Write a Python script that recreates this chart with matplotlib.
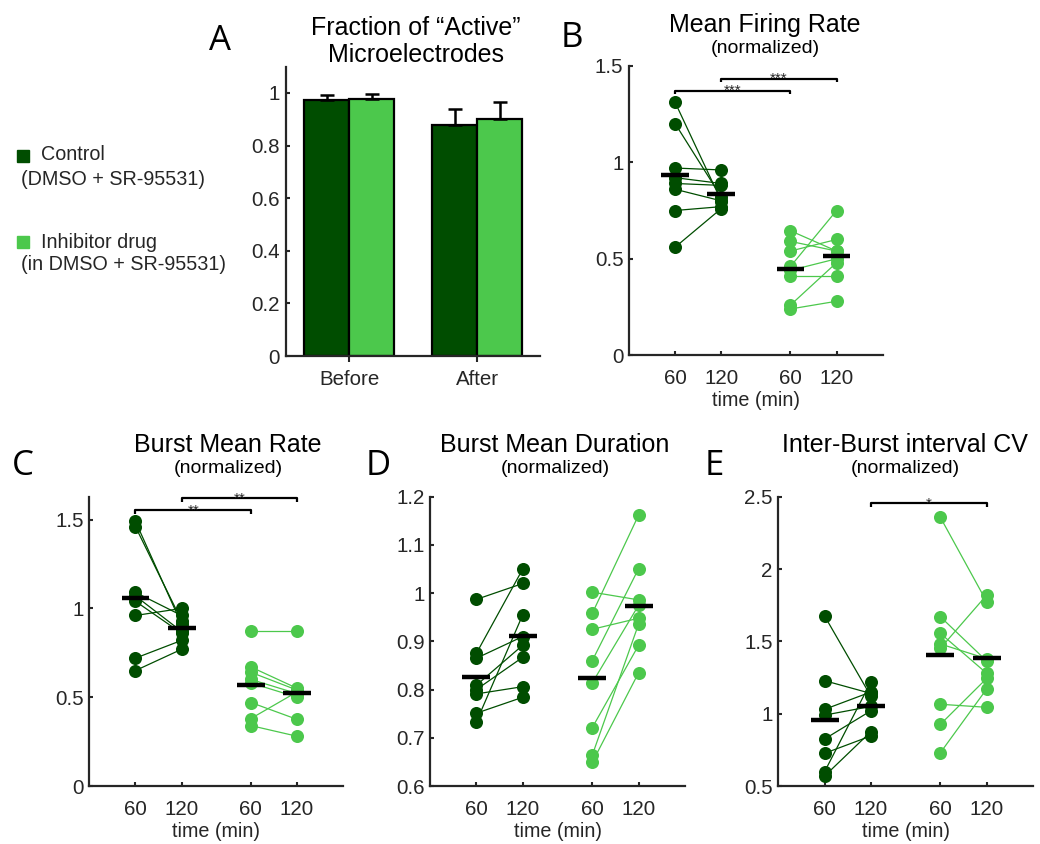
import numpy as np
import matplotlib
matplotlib.use('Agg')
import matplotlib.pyplot as plt

W, H = 1040, 844
DARK = '#004d00'
LIGHT = '#4cc84c'
GREY = '#262626'

# --- A: fraction of active microelectrodes ---
groups = ['Before', 'After']
active_ctrl = [0.972, 0.877]
active_ctrl_err = [0.019, 0.061]
active_drug = [0.976, 0.902]
active_drug_err = [0.021, 0.064]

# tick labels shared by the paired panels
times = ['60', '120', '60', '120']

# --- B: mean firing rate (normalized), pairs in same order ---
fr_ctrl_60 = [1.31, 1.20, 0.97, 0.92, 0.89, 0.86, 0.75, 0.56]
fr_ctrl_120 = [0.80, 0.82, 0.96, 0.89, 0.88, 0.80, 0.77, 0.76]
fr_drug_60 = [0.645, 0.59, 0.54, 0.46, 0.44, 0.41, 0.26, 0.24]
fr_drug_120 = [0.54, 0.54, 0.60, 0.75, 0.50, 0.41, 0.48, 0.28]

# --- C: burst mean rate ---
br_ctrl_60 = [1.49, 1.46, 1.09, 1.07, 1.04, 0.96, 0.72, 0.65]
br_ctrl_120 = [0.91, 0.93, 0.96, 0.87, 0.86, 1.00, 0.82, 0.77]
br_drug_60 = [0.875, 0.67, 0.64, 0.60, 0.58, 0.47, 0.38, 0.34]
br_drug_120 = [0.875, 0.55, 0.54, 0.52, 0.50, 0.375, 0.53, 0.28]

# --- D: burst mean duration ---
bd_ctrl_60 = [0.987, 0.875, 0.865, 0.809, 0.800, 0.791, 0.751, 0.733]
bd_ctrl_120 = [1.02, 1.05, 0.91, 0.892, 0.867, 0.806, 0.784, 0.955]
bd_drug_60 = [1.002, 0.958, 0.925, 0.86, 0.814, 0.721, 0.664, 0.649]
bd_drug_120 = [0.986, 1.162, 0.948, 1.051, 0.975, 0.892, 0.936, 0.835]

# --- E: inter-burst interval CV ---
ibi_ctrl_60 = [1.675, 1.228, 1.03, 0.99, 0.825, 0.726, 0.599, 0.569]
ibi_ctrl_120 = [1.12, 1.14, 1.15, 1.05, 1.02, 0.846, 1.22, 0.876]
ibi_drug_60 = [2.357, 1.670, 1.555, 1.482, 1.452, 1.065, 0.926, 0.730]
ibi_drug_120 = [1.774, 1.364, 1.279, 1.38, 1.820, 1.044, 1.244, 1.171]

plt.rcParams['font.family'] = ['Liberation Sans', 'DejaVu Sans']

TICK_FS = 14.8
TITLE_FS = 18
SUB_FS = 14


def px_rect(l, t, r, b):
    return [l / W, 1 - b / H, (r - l) / W, (b - t) / H]


def ftext(x, y, s, **kw):
    fig.text(x / W, 1 - y / H, s, va='baseline', **kw)


def style_axes(ax):
    for side in ('top', 'right'):
        ax.spines[side].set_visible(False)
    for side in ('left', 'bottom'):
        ax.spines[side].set_linewidth(1.6)
        ax.spines[side].set_color(GREY)
    ax.tick_params(direction='in', length=3, width=1.5, colors=GREY,
                   labelsize=TICK_FS, labelcolor=GREY)
    ax.tick_params(axis='x', pad=10)
    ax.tick_params(axis='y', pad=4)


def bracket(ax, x1, x2, y, stars):
    lo, hi = ax.get_ylim()
    d = 0.012 * (hi - lo)
    ax.plot([x1, x1, x2, x2], [y - d, y, y, y - d], color='k', lw=1.6,
            solid_capstyle='butt', clip_on=False)
    ax.annotate(stars, xy=((x1 + x2) / 2, y), xytext=(0, -3),
                textcoords='offset points', ha='center', va='baseline',
                fontsize=11, color=GREY)


def pair_panel(ax, c60, c120, d60, d120, ylim, yticks, ylabels):
    xs = [1, 2, 3.5, 4.5]
    for a, b in zip(c60, c120):
        ax.plot(xs[0:2], [a, b], color=DARK, lw=0.9, zorder=1)
    for a, b in zip(d60, d120):
        ax.plot(xs[2:4], [a, b], color=LIGHT, lw=0.9, zorder=1)
    for x, vals, col in zip(xs, [c60, c120, d60, d120],
                            [DARK, DARK, LIGHT, LIGHT]):
        ax.plot([x] * len(vals), vals, 'o', ms=9.4, mew=0, color=col, zorder=2)
        m = np.mean(vals)
        ax.plot([x - 0.3, x + 0.3], [m, m], color='k', lw=3.2,
                solid_capstyle='butt', zorder=3)
    ax.set_xlim(0, 5.5)
    ax.set_ylim(*ylim)
    ax.set_xticks(xs)
    ax.set_xticklabels(times)
    ax.set_yticks(yticks)
    ax.set_yticklabels(ylabels)
    ax.set_xlabel('time (min)', fontsize=14.2, color=GREY, labelpad=2)
    style_axes(ax)


fig = plt.figure(figsize=(W / 100, H / 100), dpi=100)

# panel A
axA = fig.add_axes(px_rect(285.7, 66.7, 540, 356))
gx = np.arange(1, len(groups) + 1)
bw = 0.35
axA.bar(gx - bw / 2, active_ctrl, bw, color=DARK, edgecolor='k', lw=1.6,
        yerr=[[0] * len(groups), active_ctrl_err], capsize=5,
        error_kw=dict(elinewidth=1.8, capthick=1.8, ecolor='k'))
axA.bar(gx + bw / 2, active_drug, bw, color=LIGHT, edgecolor='k', lw=1.6,
        yerr=[[0] * len(groups), active_drug_err], capsize=5,
        error_kw=dict(elinewidth=1.8, capthick=1.8, ecolor='k'))
axA.set_xlim(0.505, 2.49)
axA.set_ylim(0, 1.1)
axA.set_xticks(gx)
axA.set_xticklabels(groups)
axA.set_yticks([0, 0.2, 0.4, 0.6, 0.8, 1])
axA.set_yticklabels(['0', '0.2', '0.4', '0.6', '0.8', '1'])
style_axes(axA)
axA.tick_params(axis='x', direction='out', length=4, pad=6)

# panel B
axB = fig.add_axes(px_rect(629, 65.7, 882.7, 355.3))
pair_panel(axB, fr_ctrl_60, fr_ctrl_120, fr_drug_60, fr_drug_120,
           (0, 1.5), [0, 0.5, 1, 1.5], ['0', '0.5', '1', '1.5'])
bracket(axB, 1, 3.5, 1.371, '***')
bracket(axB, 2, 4.5, 1.432, '***')

# panel C
axC = fig.add_axes(px_rect(89.3, 496.5, 343.3, 786))
pair_panel(axC, br_ctrl_60, br_ctrl_120, br_drug_60, br_drug_120,
           (0, 1.63), [0, 0.5, 1, 1.5], ['0', '0.5', '1', '1.5'])
bracket(axC, 1, 3.5, 1.553, '**')
bracket(axC, 2, 4.5, 1.620, '**')

# panel D
axD = fig.add_axes(px_rect(430, 496.7, 685, 786))
pair_panel(axD, bd_ctrl_60, bd_ctrl_120, bd_drug_60, bd_drug_120,
           (0.6, 1.2), [0.6, 0.7, 0.8, 0.9, 1.0, 1.1, 1.2],
           ['0.6', '0.7', '0.8', '0.9', '1', '1.1', '1.2'])

# panel E
axE = fig.add_axes(px_rect(778.3, 496.7, 1033, 786))
pair_panel(axE, ibi_ctrl_60, ibi_ctrl_120, ibi_drug_60, ibi_drug_120,
           (0.5, 2.5), [0.5, 1, 1.5, 2, 2.5], ['0.5', '1', '1.5', '2', '2.5'])
bracket(axE, 2, 4.5, 2.454, '*')

# titles
ftext(416, 35, 'Fraction of \u201cActive\u201d', ha='center', fontsize=TITLE_FS)
ftext(416, 61.7, 'Microelectrodes', ha='center', fontsize=TITLE_FS)
ftext(765, 32, 'Mean Firing Rate', ha='center', fontsize=TITLE_FS)
ftext(765, 53, '(normalized)', ha='center', fontsize=SUB_FS)
ftext(228, 451.7, 'Burst Mean Rate', ha='center', fontsize=TITLE_FS)
ftext(228, 472.7, '(normalized)', ha='center', fontsize=SUB_FS)
ftext(555, 451.7, 'Burst Mean Duration', ha='center', fontsize=TITLE_FS)
ftext(555, 472.7, '(normalized)', ha='center', fontsize=SUB_FS)
ftext(905, 451.7, 'Inter-Burst interval CV', ha='center', fontsize=TITLE_FS)
ftext(905, 472.7, '(normalized)', ha='center', fontsize=SUB_FS)

# panel letters
for x, y, s in [(209, 50, 'A'), (561, 46.7, 'B'), (12, 475, 'C'),
                (366, 475, 'D'), (705, 475, 'E')]:
    ftext(x, y, s, fontsize=25, family=['Open Sans', 'DejaVu Sans'])

# legend
fig.patches.append(plt.Rectangle((17.3 / W, 1 - 161.7 / H), 12 / W, 12 / H,
                                 transform=fig.transFigure, color=DARK))
fig.patches.append(plt.Rectangle((17.3 / W, 1 - 248 / H), 12 / W, 12 / H,
                                 transform=fig.transFigure, color=LIGHT))
ftext(40.7, 160, 'Control', fontsize=14.2, color=GREY)
ftext(20.7, 185, '(DMSO + SR-95531)', fontsize=14.2, color=GREY)
ftext(40.7, 248, 'Inhibitor drug', fontsize=14.2, color=GREY)
ftext(20.7, 270, '(in DMSO + SR-95531)', fontsize=14.2, color=GREY)

fig.savefig('out.png', dpi=100)
